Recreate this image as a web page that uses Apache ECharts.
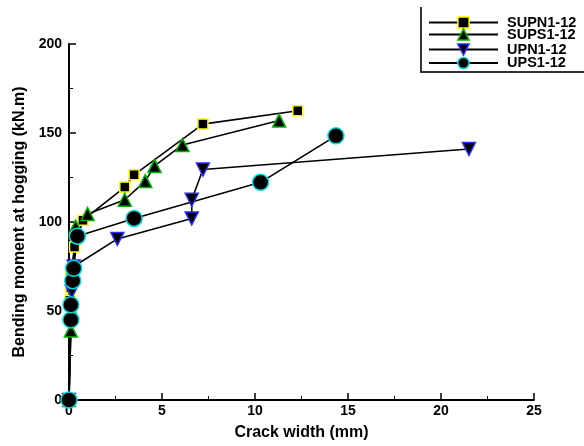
<!DOCTYPE html>
<html><head><meta charset="utf-8">
<script src="https://cdn.jsdelivr.net/npm/echarts@6/dist/echarts.min.js"></script>
<style>html,body{margin:0;padding:0;background:#fff}#c{width:584px;height:446px}</style>
</head><body><div id="c"></div>
<script>
const seriesNames = ['SUPN1-12', 'SUPS1-12', 'UPN1-12', 'UPS1-12'];
const borderColors = ['#ffff00', '#00b400', '#2a2aff', '#00dddd'];
const SUPN_x = [0, 0.05, 0.1, 0.1, 0.3, 0.75, 3.0, 3.5, 7.2, 12.3];
const SUPN_y = [0, 56, 63, 71, 86, 101, 119.6, 126.5, 155, 162.5];
const SUPS_x = [0, 0.1, 0.15, 0.36, 1.0, 3.0, 4.1, 4.6, 6.1, 11.3];
const SUPS_y = [0, 39, 50, 97.4, 104.5, 112.5, 123, 131.5, 143.3, 157];
const UPN_x = [0, 0.15, 0.25, 2.6, 6.6, 6.6, 7.2, 21.5];
const UPN_y = [0, 61, 75, 90.5, 102, 112.5, 129.5, 141];
const UPS_x = [0, 0.1, 0.1, 0.2, 0.25, 0.45, 3.5, 10.3, 14.35];
const UPS_y = [0, 45, 53.5, 67, 74, 92, 102, 122.3, 148.4];
const xTicks = [0, 5, 10, 15, 20, 25];
const yTicks = [0, 50, 100, 150, 200];

const zip = (xs, ys) => xs.map((x, i) => [x, ys[i]]);
const FONT = 'Liberation Sans, Arial, sans-serif';
const legendTops = [15, 27, 42, 55.5];

function mk(name, data, symbol, size, border, rot) {
  return {
    name, type: 'line', data, symbol, symbolSize: size, symbolRotate: rot || 0,
    lineStyle: { color: '#000', width: 1.6 },
    itemStyle: { color: '#000', borderColor: border, borderWidth: 1.5 },
    animation: false
  };
}

const chart = echarts.init(document.getElementById('c'), null, { renderer: 'canvas' });
chart.setOption({
  animation: false,
  grid: { left: 69, right: 50, top: 44, bottom: 43 },
  legend: seriesNames.map((n, i) => ({
    orient: 'vertical', left: 428, top: legendTops[i], padding: 0,
    itemWidth: 69, itemHeight: 14,
    textStyle: { fontFamily: FONT, fontWeight: 'bold', fontSize: 14.5, color: '#000', padding: [0, 0, 0, 4] },
    data: [{
      name: n,
      itemStyle: { color: '#000', borderColor: borderColors[i], borderWidth: 1.5 },
      lineStyle: { color: '#000', width: 2 }
    }]
  })),
  graphic: [{
    type: 'polyline', shape: { points: [[421, 7], [421, 72], [590, 72]] },
    style: { stroke: '#333', lineWidth: 2, fill: null }
  }],
  xAxis: {
    type: 'value', min: 0, max: 25, interval: 5,
    name: 'Crack width (mm)', nameLocation: 'middle', nameGap: 25,
    nameTextStyle: { fontFamily: FONT, fontWeight: 'bold', fontSize: 16, color: '#000' },
    axisLine: { lineStyle: { color: '#000', width: 2 } },
    axisTick: { inside: true, length: 7, lineStyle: { color: '#000', width: 1.5 } },
    minorTick: { show: true, splitNumber: 2, length: 4, lineStyle: { color: '#000', width: 1 } },
    splitLine: { show: false },
    axisLabel: { fontFamily: FONT, fontWeight: 'bold', fontSize: 14, color: '#000', margin: 4,
      formatter: v => xTicks.includes(v) ? String(v) : '' }
  },
  yAxis: {
    type: 'value', min: 0, max: 200, interval: 50,
    name: 'Bending moment at hogging (kN.m)', nameLocation: 'middle', nameGap: 41, nameRotate: 90,
    nameTextStyle: { fontFamily: FONT, fontWeight: 'bold', fontSize: 16, color: '#000' },
    axisLine: { show: true, lineStyle: { color: '#000', width: 2 } },
    axisTick: { show: true, inside: true, length: 7, lineStyle: { color: '#000', width: 1.5 } },
    minorTick: { show: true, splitNumber: 2, length: 4, lineStyle: { color: '#000', width: 1 } },
    splitLine: { show: false },
    axisLabel: { fontFamily: FONT, fontWeight: 'bold', fontSize: 14, color: '#000', margin: 7,
      formatter: v => yTicks.includes(v) ? String(v) : '' }
  },
  series: [
    mk(seriesNames[0], zip(SUPN_x, SUPN_y), 'rect', 10, borderColors[0]),
    mk(seriesNames[1], zip(SUPS_x, SUPS_y), 'triangle', 13, borderColors[1]),
    mk(seriesNames[2], zip(UPN_x, UPN_y), 'triangle', 13, borderColors[2], 180),
    mk(seriesNames[3], zip(UPS_x, UPS_y), 'circle', 16, borderColors[3])
  ]
});
</script></body></html>
